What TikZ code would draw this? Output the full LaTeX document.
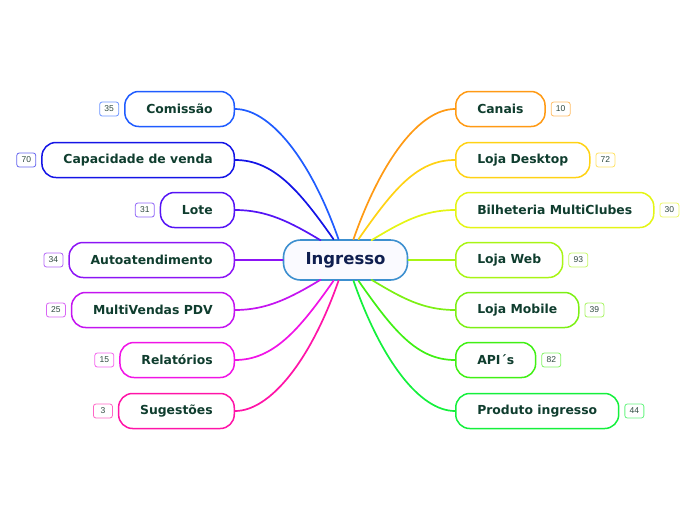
\documentclass[tikz,border=0pt]{standalone}
\usepackage{fontspec}
\setmainfont{DejaVu Sans}
\newfontfamily\badgefont{Liberation Sans}
\usepackage{tikz}
\usetikzlibrary{positioning}
\definecolor{txtGreen}{HTML}{0F3D2E}
\definecolor{txtNavy}{HTML}{0F1F50}
\definecolor{badgeTxt}{HTML}{2F4A40}
\definecolor{rootBlue}{HTML}{3C8FCF}
\definecolor{cComissao}{HTML}{1F5CFF}
\definecolor{cCapacidade}{HTML}{1414E6}
\definecolor{cLote}{HTML}{5514F5}
\definecolor{cAuto}{HTML}{8C14F5}
\definecolor{cMulti}{HTML}{C414F0}
\definecolor{cRelat}{HTML}{F014E6}
\definecolor{cSuges}{HTML}{FF14A8}
\definecolor{cCanais}{HTML}{FF9A14}
\definecolor{cDesktop}{HTML}{FFD214}
\definecolor{cBilhet}{HTML}{E4F514}
\definecolor{cWeb}{HTML}{A8F514}
\definecolor{cMobile}{HTML}{7CF014}
\definecolor{cApi}{HTML}{40F014}
\definecolor{cProduto}{HTML}{14F03C}

\begin{document}
\begin{tikzpicture}[x=1pt, y=-1pt, line cap=round,
  root/.style={draw=rootBlue, line width=1.6pt, rounded corners=17pt, fill=blue!2,
    minimum height=40pt, inner xsep=22pt, text=txtNavy, font=\fontsize{16.5}{19}\selectfont\bfseries},
  topic/.style={draw, line width=1.5pt, rounded corners=14pt, fill=white,
    minimum height=35pt, inner xsep=21.5pt, text=txtGreen, font=\fontsize{12.4}{14}\selectfont\bfseries},
  badge/.style={draw, line width=0.8pt, rounded corners=2.5pt, fill=white,
    minimum width=19pt, minimum height=14pt, inner sep=1pt, text=badgeTxt,
    font=\badgefont\fontsize{8.5}{10}\selectfont},
  link/.style={line width=1.7pt}]
\useasboundingbox (0,0) rectangle (696,520);

\node[root] (ing) at (345.5,260) {Ingresso};

% lado esquerdo
\node[topic, draw=cComissao, anchor=east] (com) at (235,109) {Comissão};
\node[topic, draw=cCapacidade, anchor=east] (cap) at (235,160) {Capacidade de venda};
\node[topic, draw=cLote, anchor=east] (lot) at (235,210) {Lote};
\node[topic, draw=cAuto, anchor=east] (aut) at (235,260) {Autoatendimento};
\node[topic, draw=cMulti, anchor=east] (pdv) at (235,310) {MultiVendas PDV};
\node[topic, draw=cRelat, anchor=east] (rel) at (235,360) {Relatórios};
\node[topic, draw=cSuges, anchor=east] (sug) at (235,411) {Sugestões};

\node[badge, draw=cComissao!65, left=5pt of com] (bcom) {35};
\node[badge, draw=cCapacidade!65, left=5pt of cap] (bcap) {70};
\node[badge, draw=cLote!65, left=5pt of lot] (blot) {31};
\node[badge, draw=cAuto!65, left=5pt of aut] (baut) {34};
\node[badge, draw=cMulti!65, left=5pt of pdv] (bpdv) {25};
\node[badge, draw=cRelat!65, left=5pt of rel] (brel) {15};
\node[badge, draw=cSuges!65, left=5pt of sug] (bsug) {3};

% lado direito
\node[topic, draw=cCanais, anchor=west] (can) at (455,109) {Canais};
\node[topic, draw=cDesktop, anchor=west] (dsk) at (455,160) {Loja Desktop};
\node[topic, draw=cBilhet, anchor=west] (bil) at (455,210) {Bilheteria MultiClubes};
\node[topic, draw=cWeb, anchor=west] (web) at (455,260) {Loja Web};
\node[topic, draw=cMobile, anchor=west] (mob) at (455,310) {Loja Mobile};
\node[topic, draw=cApi, anchor=west] (api) at (455,360) {API´s};
\node[topic, draw=cProduto, anchor=west] (prd) at (455,411) {Produto ingresso};

\node[badge, draw=cCanais!65, right=5pt of can] (bcan) {10};
\node[badge, draw=cDesktop!65, right=5pt of dsk] (bdsk) {72};
\node[badge, draw=cBilhet!65, right=5pt of bil] (bbil) {30};
\node[badge, draw=cWeb!65, right=5pt of web] (bweb) {93};
\node[badge, draw=cMobile!65, right=5pt of mob] (bmob) {39};
\node[badge, draw=cApi!65, right=5pt of api] (bapi) {82};
\node[badge, draw=cProduto!65, right=5pt of prd] (bprd) {44};

\draw[link, cComissao] (com.east) .. controls +(35,0) and +(-28,-80) .. ([xshift=-7pt]ing.north);
\draw[link, cCapacidade] (cap.east) .. controls +(38,0) and +(-35,-50) .. ([xshift=-12pt]ing.north);
\draw[link, cLote] (lot.east) .. controls +(32,0) and +(-30,-18) .. ([xshift=-25pt,yshift=-1pt]ing.north);
\draw[link, cAuto] (aut.east) -- (ing.west);
\draw[link, cMulti] (pdv.east) .. controls +(32,0) and +(-30,18) .. ([xshift=-25pt,yshift=1pt]ing.south);
\draw[link, cRelat] (rel.east) .. controls +(38,0) and +(-35,50) .. ([xshift=-12pt]ing.south);
\draw[link, cSuges] (sug.east) .. controls +(35,0) and +(-28,80) .. ([xshift=-7pt]ing.south);

\draw[link, cCanais] (can.west) .. controls +(-35,0) and +(28,-80) .. ([xshift=8pt]ing.north);
\draw[link, cDesktop] (dsk.west) .. controls +(-38,0) and +(35,-50) .. ([xshift=13pt]ing.north);
\draw[link, cBilhet] (bil.west) .. controls +(-32,0) and +(30,-18) .. ([xshift=26pt,yshift=-1pt]ing.north);
\draw[link, cWeb] (web.west) -- (ing.east);
\draw[link, cMobile] (mob.west) .. controls +(-32,0) and +(30,18) .. ([xshift=26pt,yshift=1pt]ing.south);
\draw[link, cApi] (api.west) .. controls +(-38,0) and +(35,50) .. ([xshift=13pt]ing.south);
\draw[link, cProduto] (prd.west) .. controls +(-35,0) and +(28,80) .. ([xshift=8pt]ing.south);
\end{tikzpicture}
\end{document}
